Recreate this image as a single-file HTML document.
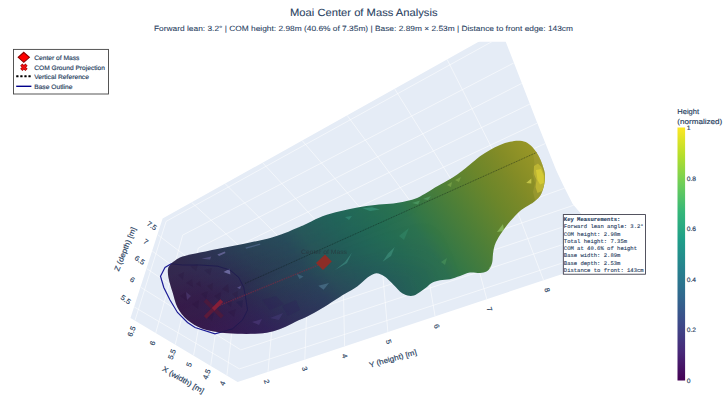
<!DOCTYPE html>
<html><head><meta charset="utf-8"><title>Moai Center of Mass Analysis</title>
<style>html,body{margin:0;padding:0;background:#fff;}body{width:728px;height:410px;overflow:hidden;font-family:"Liberation Sans",sans-serif;}svg{display:block;}</style>
</head><body>
<svg width="728" height="410" viewBox="0 0 728 410" text-rendering="geometricPrecision">
<defs>
<clipPath id="scene"><rect x="0" y="41.7" width="670" height="368.3"/></clipPath>
<clipPath id="hex"><polygon points="162.6,218.5 130.5,318 237.6,382 604,260.2 581.6,214.4 572.7,204.1 564.1,187.1 556.3,170.5 545.4,143.2 536.1,120 500.9,29.3"/></clipPath>
<linearGradient id="mg" gradientUnits="userSpaceOnUse" x1="207.1" y1="350.0" x2="520.7" y2="130.5">
<stop offset="0.000" stop-color="#331946"/>
<stop offset="0.075" stop-color="#311d49"/>
<stop offset="0.160" stop-color="#2d2950"/>
<stop offset="0.236" stop-color="#2a3953"/>
<stop offset="0.330" stop-color="#284658"/>
<stop offset="0.376" stop-color="#275358"/>
<stop offset="0.450" stop-color="#225e58"/>
<stop offset="0.500" stop-color="#226557"/>
<stop offset="0.560" stop-color="#246c53"/>
<stop offset="0.627" stop-color="#2c724f"/>
<stop offset="0.660" stop-color="#347746"/>
<stop offset="0.750" stop-color="#4e7f37"/>
<stop offset="0.800" stop-color="#5e8330"/>
<stop offset="0.844" stop-color="#6c862a"/>
<stop offset="0.893" stop-color="#7a8928"/>
<stop offset="0.924" stop-color="#848c26"/>
<stop offset="0.966" stop-color="#909226"/>
<stop offset="1.000" stop-color="#989626"/>
</linearGradient>
<linearGradient id="cb" x1="0" y1="1" x2="0" y2="0">
<stop offset="0" stop-color="#440154"/><stop offset="0.111" stop-color="#482878"/><stop offset="0.222" stop-color="#3e4989"/>
<stop offset="0.333" stop-color="#31688e"/><stop offset="0.444" stop-color="#26828e"/><stop offset="0.556" stop-color="#1f9e89"/>
<stop offset="0.667" stop-color="#35b779"/><stop offset="0.778" stop-color="#6ece58"/><stop offset="0.889" stop-color="#b5de2b"/>
<stop offset="1" stop-color="#fde725"/>
</linearGradient>
<linearGradient id="shade" gradientUnits="userSpaceOnUse" x1="284.8" y1="231.8" x2="315.2" y2="312.2">
<stop offset="0" stop-color="#28a080" stop-opacity="0.10"/>
<stop offset="0.4" stop-color="#28a080" stop-opacity="0"/>
<stop offset="0.6" stop-color="#3a1468" stop-opacity="0.06"/>
<stop offset="1" stop-color="#3a1468" stop-opacity="0.34"/>
</linearGradient>
<linearGradient id="lmg" gradientUnits="userSpaceOnUse" x1="250" y1="290" x2="440" y2="218">
<stop offset="0" stop-color="#fff"/><stop offset="1" stop-color="#000"/>
</linearGradient>
<mask id="lm" maskUnits="userSpaceOnUse" x="0" y="0" width="728" height="410"><rect x="0" y="0" width="728" height="410" fill="url(#lmg)"/></mask>
<clipPath id="meshclip"><path d="M168.0,269.0 C168.4,266.5 169.8,265.4 171.0,264.0 C172.2,262.6 173.6,261.5 175.5,260.3 C177.4,259.1 178.4,257.9 182.5,256.6 C186.6,255.3 192.9,254.1 200.0,252.6 C207.1,251.1 216.7,249.2 225.0,247.5 C233.3,245.8 242.9,243.9 250.0,242.5 C257.1,241.1 261.7,240.4 267.5,238.8 C273.3,237.2 280.1,234.8 285.0,233.0 C289.9,231.2 293.7,229.4 297.0,228.0 C300.3,226.6 300.8,226.5 305.0,224.5 C309.2,222.5 316.7,218.5 322.5,216.2 C328.3,214.0 334.2,212.7 340.0,211.2 C345.8,209.8 351.7,208.5 357.5,207.5 C363.3,206.5 369.6,205.6 375.0,205.0 C380.4,204.4 385.4,204.2 390.0,203.8 C394.6,203.2 398.3,202.8 402.5,202.0 C406.7,201.2 411.2,200.1 415.0,198.8 C418.8,197.4 421.7,195.6 425.0,193.8 C428.3,191.9 431.7,189.5 435.0,187.5 C438.3,185.5 441.7,183.9 445.0,182.0 C448.3,180.1 452.2,177.8 455.0,176.0 C457.8,174.2 459.5,172.9 462.0,171.0 C464.5,169.1 467.0,167.0 470.0,164.5 C473.0,162.0 476.7,158.7 480.0,156.2 C483.3,153.8 486.7,151.9 490.0,150.0 C493.3,148.1 496.7,146.4 500.0,145.0 C503.3,143.6 506.7,142.5 510.0,141.8 C513.3,141.0 517.1,140.5 520.0,140.8 C522.9,141.0 525.2,141.7 527.5,143.0 C529.8,144.3 531.9,146.5 533.8,148.8 C535.6,151.0 537.3,153.5 538.8,156.2 C540.2,159.0 541.5,161.9 542.5,165.0 C543.5,168.1 544.8,171.5 545.0,175.0 C545.2,178.5 544.6,182.8 543.8,186.2 C542.9,189.8 541.7,193.4 540.0,196.0 C538.3,198.6 535.8,200.3 533.8,202.0 C531.7,203.7 529.8,204.5 527.5,206.0 C525.2,207.5 522.5,208.9 520.0,211.0 C517.5,213.1 514.8,216.2 512.5,218.8 C510.2,221.3 508.3,223.5 506.2,226.2 C504.2,229.0 501.9,232.0 500.0,235.0 C498.1,238.0 496.2,241.3 495.0,244.5 C493.8,247.7 493.4,251.1 493.0,254.0 C492.6,256.9 492.8,259.7 492.3,262.0 C491.8,264.3 491.0,266.4 490.0,268.0 C489.0,269.6 488.2,270.7 486.5,271.5 C484.8,272.3 482.8,272.8 480.0,273.0 C477.2,273.2 473.3,272.0 470.0,272.5 C466.7,273.0 463.3,274.9 460.0,276.0 C456.7,277.1 453.3,278.5 450.0,279.2 C446.7,279.9 442.9,279.6 440.0,280.2 C437.1,280.8 434.8,281.3 432.5,282.5 C430.2,283.7 428.3,285.9 426.2,287.5 C424.2,289.1 422.1,290.7 420.0,292.0 C417.9,293.3 415.8,294.9 413.8,295.5 C411.7,296.1 409.6,296.0 407.5,295.5 C405.4,295.0 403.1,293.8 401.2,292.5 C399.4,291.2 398.1,289.4 396.2,287.5 C394.4,285.6 392.1,283.2 390.0,281.2 C387.9,279.3 386.0,277.3 383.8,276.0 C381.5,274.7 379.0,273.1 376.2,273.3 C373.5,273.6 370.6,275.3 367.5,277.5 C364.4,279.7 361.2,283.5 357.5,286.2 C353.8,289.0 348.8,291.5 345.0,293.8 C341.2,296.0 338.3,297.9 335.0,300.0 C331.7,302.1 329.2,304.0 325.0,306.5 C320.8,309.0 315.0,312.4 310.0,315.0 C305.0,317.6 299.6,319.8 295.0,322.0 C290.4,324.2 286.7,326.3 282.5,328.0 C278.3,329.7 274.6,331.0 270.0,332.0 C265.4,333.0 260.4,333.5 255.0,333.8 C249.6,334.0 243.3,334.0 237.5,333.8 C231.7,333.5 225.8,333.3 220.0,332.5 C214.2,331.7 207.9,330.8 202.5,328.8 C197.1,326.7 191.7,323.5 187.5,320.0 C183.3,316.5 180.0,312.2 177.5,307.5 C175.0,302.8 174.0,296.8 172.5,292.0 C171.0,287.2 169.5,282.8 168.8,279.0 C168.0,275.2 167.6,271.5 168.0,269.0 Z"/></clipPath>
</defs>
<rect width="728" height="410" fill="#ffffff"/>
<g clip-path="url(#scene)">
<polygon points="162.6,218.5 130.5,318 237.6,382 604,260.2 581.6,214.4 572.7,204.1 564.1,187.1 556.3,170.5 545.4,143.2 536.1,120 500.9,29.3" fill="#e5ecf6"/>
<g clip-path="url(#hex)"><path d="M226.9,375.6 L237.6,280.6 M237.6,280.6 L545.6,143.4 M210.7,365.9 L224.7,270.0 M224.7,270.0 L537.5,123.0 M193.5,355.6 L211.4,258.9 M211.4,258.9 L530.0,104.0 M175.2,344.7 L198.3,248.1 M198.3,248.1 L521.8,83.4 M155.7,333.1 L182.7,235.1 M182.7,235.1 L513.7,63.0 M134.9,320.6 L166.1,221.4 M166.1,221.4 L502.9,35.6 M191.5,202.3 L276.3,280.0 M276.3,280.0 L268.0,371.9 M225.0,183.6 L309.4,267.1 M308.4,267.5 L304.8,359.7 M262.5,162.6 L345.7,252.8 M342.7,254.0 L344.6,346.4 M302.0,140.4 L385.6,237.2 M379.6,239.6 L387.9,332.1 M347.0,115.2 L425.4,221.7 M419.4,224.0 L435.1,316.4 M394.5,88.6 L467.3,205.3 M462.3,207.2 L486.8,299.2 M447.0,59.2 L511.8,187.8 M508.8,189.0 L543.6,280.3 M134.1,306.9 L239.4,368.9 M239.4,368.9 L599.0,251.0 M140.5,287.1 L240.8,349.9 M240.8,349.9 L590.3,235.5 M146.5,268.5 L242.8,333.5 M242.8,333.5 L582.3,220.5 M152.1,251.0 L244.8,317.5 M244.8,317.5 L574.3,205.0 M157.4,234.5 L246.8,302.5 M246.8,302.5 L565.0,188.0" stroke="#ffffff" stroke-width="0.7" stroke-opacity="0.8" fill="none"/></g>
<path d="M171.2,263.8 L165.0,267.5 L160.5,276.2 L163.8,287.5 L170.0,300.0 L177.5,312.5 L187.5,322.5 L195.0,327.5 L215.0,333.8 L232.5,328.8 L242.5,320.0 L247.5,310.0 L246.0,300.0 L243.8,287.5 L238.8,277.5 L230.0,270.0 L217.5,266.2 L200.0,265.0 L182.5,265.0 Z" fill="none" stroke="#1c1c96" stroke-width="1.2"/>
<path d="M168.0,269.0 C168.4,266.5 169.8,265.4 171.0,264.0 C172.2,262.6 173.6,261.5 175.5,260.3 C177.4,259.1 178.4,257.9 182.5,256.6 C186.6,255.3 192.9,254.1 200.0,252.6 C207.1,251.1 216.7,249.2 225.0,247.5 C233.3,245.8 242.9,243.9 250.0,242.5 C257.1,241.1 261.7,240.4 267.5,238.8 C273.3,237.2 280.1,234.8 285.0,233.0 C289.9,231.2 293.7,229.4 297.0,228.0 C300.3,226.6 300.8,226.5 305.0,224.5 C309.2,222.5 316.7,218.5 322.5,216.2 C328.3,214.0 334.2,212.7 340.0,211.2 C345.8,209.8 351.7,208.5 357.5,207.5 C363.3,206.5 369.6,205.6 375.0,205.0 C380.4,204.4 385.4,204.2 390.0,203.8 C394.6,203.2 398.3,202.8 402.5,202.0 C406.7,201.2 411.2,200.1 415.0,198.8 C418.8,197.4 421.7,195.6 425.0,193.8 C428.3,191.9 431.7,189.5 435.0,187.5 C438.3,185.5 441.7,183.9 445.0,182.0 C448.3,180.1 452.2,177.8 455.0,176.0 C457.8,174.2 459.5,172.9 462.0,171.0 C464.5,169.1 467.0,167.0 470.0,164.5 C473.0,162.0 476.7,158.7 480.0,156.2 C483.3,153.8 486.7,151.9 490.0,150.0 C493.3,148.1 496.7,146.4 500.0,145.0 C503.3,143.6 506.7,142.5 510.0,141.8 C513.3,141.0 517.1,140.5 520.0,140.8 C522.9,141.0 525.2,141.7 527.5,143.0 C529.8,144.3 531.9,146.5 533.8,148.8 C535.6,151.0 537.3,153.5 538.8,156.2 C540.2,159.0 541.5,161.9 542.5,165.0 C543.5,168.1 544.8,171.5 545.0,175.0 C545.2,178.5 544.6,182.8 543.8,186.2 C542.9,189.8 541.7,193.4 540.0,196.0 C538.3,198.6 535.8,200.3 533.8,202.0 C531.7,203.7 529.8,204.5 527.5,206.0 C525.2,207.5 522.5,208.9 520.0,211.0 C517.5,213.1 514.8,216.2 512.5,218.8 C510.2,221.3 508.3,223.5 506.2,226.2 C504.2,229.0 501.9,232.0 500.0,235.0 C498.1,238.0 496.2,241.3 495.0,244.5 C493.8,247.7 493.4,251.1 493.0,254.0 C492.6,256.9 492.8,259.7 492.3,262.0 C491.8,264.3 491.0,266.4 490.0,268.0 C489.0,269.6 488.2,270.7 486.5,271.5 C484.8,272.3 482.8,272.8 480.0,273.0 C477.2,273.2 473.3,272.0 470.0,272.5 C466.7,273.0 463.3,274.9 460.0,276.0 C456.7,277.1 453.3,278.5 450.0,279.2 C446.7,279.9 442.9,279.6 440.0,280.2 C437.1,280.8 434.8,281.3 432.5,282.5 C430.2,283.7 428.3,285.9 426.2,287.5 C424.2,289.1 422.1,290.7 420.0,292.0 C417.9,293.3 415.8,294.9 413.8,295.5 C411.7,296.1 409.6,296.0 407.5,295.5 C405.4,295.0 403.1,293.8 401.2,292.5 C399.4,291.2 398.1,289.4 396.2,287.5 C394.4,285.6 392.1,283.2 390.0,281.2 C387.9,279.3 386.0,277.3 383.8,276.0 C381.5,274.7 379.0,273.1 376.2,273.3 C373.5,273.6 370.6,275.3 367.5,277.5 C364.4,279.7 361.2,283.5 357.5,286.2 C353.8,289.0 348.8,291.5 345.0,293.8 C341.2,296.0 338.3,297.9 335.0,300.0 C331.7,302.1 329.2,304.0 325.0,306.5 C320.8,309.0 315.0,312.4 310.0,315.0 C305.0,317.6 299.6,319.8 295.0,322.0 C290.4,324.2 286.7,326.3 282.5,328.0 C278.3,329.7 274.6,331.0 270.0,332.0 C265.4,333.0 260.4,333.5 255.0,333.8 C249.6,334.0 243.3,334.0 237.5,333.8 C231.7,333.5 225.8,333.3 220.0,332.5 C214.2,331.7 207.9,330.8 202.5,328.8 C197.1,326.7 191.7,323.5 187.5,320.0 C183.3,316.5 180.0,312.2 177.5,307.5 C175.0,302.8 174.0,296.8 172.5,292.0 C171.0,287.2 169.5,282.8 168.8,279.0 C168.0,275.2 167.6,271.5 168.0,269.0 Z" fill="url(#mg)"/>
<path d="M168.0,269.0 C168.4,266.5 169.8,265.4 171.0,264.0 C172.2,262.6 173.6,261.5 175.5,260.3 C177.4,259.1 178.4,257.9 182.5,256.6 C186.6,255.3 192.9,254.1 200.0,252.6 C207.1,251.1 216.7,249.2 225.0,247.5 C233.3,245.8 242.9,243.9 250.0,242.5 C257.1,241.1 261.7,240.4 267.5,238.8 C273.3,237.2 280.1,234.8 285.0,233.0 C289.9,231.2 293.7,229.4 297.0,228.0 C300.3,226.6 300.8,226.5 305.0,224.5 C309.2,222.5 316.7,218.5 322.5,216.2 C328.3,214.0 334.2,212.7 340.0,211.2 C345.8,209.8 351.7,208.5 357.5,207.5 C363.3,206.5 369.6,205.6 375.0,205.0 C380.4,204.4 385.4,204.2 390.0,203.8 C394.6,203.2 398.3,202.8 402.5,202.0 C406.7,201.2 411.2,200.1 415.0,198.8 C418.8,197.4 421.7,195.6 425.0,193.8 C428.3,191.9 431.7,189.5 435.0,187.5 C438.3,185.5 441.7,183.9 445.0,182.0 C448.3,180.1 452.2,177.8 455.0,176.0 C457.8,174.2 459.5,172.9 462.0,171.0 C464.5,169.1 467.0,167.0 470.0,164.5 C473.0,162.0 476.7,158.7 480.0,156.2 C483.3,153.8 486.7,151.9 490.0,150.0 C493.3,148.1 496.7,146.4 500.0,145.0 C503.3,143.6 506.7,142.5 510.0,141.8 C513.3,141.0 517.1,140.5 520.0,140.8 C522.9,141.0 525.2,141.7 527.5,143.0 C529.8,144.3 531.9,146.5 533.8,148.8 C535.6,151.0 537.3,153.5 538.8,156.2 C540.2,159.0 541.5,161.9 542.5,165.0 C543.5,168.1 544.8,171.5 545.0,175.0 C545.2,178.5 544.6,182.8 543.8,186.2 C542.9,189.8 541.7,193.4 540.0,196.0 C538.3,198.6 535.8,200.3 533.8,202.0 C531.7,203.7 529.8,204.5 527.5,206.0 C525.2,207.5 522.5,208.9 520.0,211.0 C517.5,213.1 514.8,216.2 512.5,218.8 C510.2,221.3 508.3,223.5 506.2,226.2 C504.2,229.0 501.9,232.0 500.0,235.0 C498.1,238.0 496.2,241.3 495.0,244.5 C493.8,247.7 493.4,251.1 493.0,254.0 C492.6,256.9 492.8,259.7 492.3,262.0 C491.8,264.3 491.0,266.4 490.0,268.0 C489.0,269.6 488.2,270.7 486.5,271.5 C484.8,272.3 482.8,272.8 480.0,273.0 C477.2,273.2 473.3,272.0 470.0,272.5 C466.7,273.0 463.3,274.9 460.0,276.0 C456.7,277.1 453.3,278.5 450.0,279.2 C446.7,279.9 442.9,279.6 440.0,280.2 C437.1,280.8 434.8,281.3 432.5,282.5 C430.2,283.7 428.3,285.9 426.2,287.5 C424.2,289.1 422.1,290.7 420.0,292.0 C417.9,293.3 415.8,294.9 413.8,295.5 C411.7,296.1 409.6,296.0 407.5,295.5 C405.4,295.0 403.1,293.8 401.2,292.5 C399.4,291.2 398.1,289.4 396.2,287.5 C394.4,285.6 392.1,283.2 390.0,281.2 C387.9,279.3 386.0,277.3 383.8,276.0 C381.5,274.7 379.0,273.1 376.2,273.3 C373.5,273.6 370.6,275.3 367.5,277.5 C364.4,279.7 361.2,283.5 357.5,286.2 C353.8,289.0 348.8,291.5 345.0,293.8 C341.2,296.0 338.3,297.9 335.0,300.0 C331.7,302.1 329.2,304.0 325.0,306.5 C320.8,309.0 315.0,312.4 310.0,315.0 C305.0,317.6 299.6,319.8 295.0,322.0 C290.4,324.2 286.7,326.3 282.5,328.0 C278.3,329.7 274.6,331.0 270.0,332.0 C265.4,333.0 260.4,333.5 255.0,333.8 C249.6,334.0 243.3,334.0 237.5,333.8 C231.7,333.5 225.8,333.3 220.0,332.5 C214.2,331.7 207.9,330.8 202.5,328.8 C197.1,326.7 191.7,323.5 187.5,320.0 C183.3,316.5 180.0,312.2 177.5,307.5 C175.0,302.8 174.0,296.8 172.5,292.0 C171.0,287.2 169.5,282.8 168.8,279.0 C168.0,275.2 167.6,271.5 168.0,269.0 Z" fill="url(#shade)" mask="url(#lm)"/>
<g clip-path="url(#meshclip)">
<path d="M533,152 L538,150 L543,158 L546,175 L545,190 L540,198 L535,200 L533,192 L535,183 L532.5,174 L534.5,164 Z" fill="#a8a23a" opacity="0.45"/>
<path d="M534,166 L538,163.5 L541.5,167 L544.5,175 L545,184 L542,191 L537.5,193 L535.5,187 L536.5,180 L534,174 Z" fill="#c4bc34" opacity="0.8"/>
<path d="M536,170 L541,169 L543.8,176 L543.8,183 L540,184.5 L537.5,180 Z" fill="#d8ce36" opacity="0.85"/>
<path d="M171.2,263.8 L165.0,267.5 L160.5,276.2 L163.8,287.5 L170.0,300.0 L177.5,312.5 L187.5,322.5 L195.0,327.5 L215.0,333.8 L232.5,328.8 L242.5,320.0 L247.5,310.0 L246.0,300.0 L243.8,287.5 L238.8,277.5 L230.0,270.0 L217.5,266.2 L200.0,265.0 L182.5,265.0 Z" fill="#6a2a78" fill-opacity="0.07" stroke="none"/>
<polygon points="178,275 184,272 183,280" fill="#24103a" fill-opacity="0.24"/>
<polygon points="186,283 192,279 193,287" fill="#24103a" fill-opacity="0.21"/>
<polygon points="180,296 186,292 187,301" fill="#24103a" fill-opacity="0.21"/>
<polygon points="192,304 199,300 198,309" fill="#24103a" fill-opacity="0.21"/>
<polygon points="201,294 208,291 206,299" fill="#24103a" fill-opacity="0.18"/>
<polygon points="214,296 221,292 220,301" fill="#24103a" fill-opacity="0.21"/>
<polygon points="225,302 232,299 231,307" fill="#24103a" fill-opacity="0.21"/>
<polygon points="228,312 236,309 234,317" fill="#24103a" fill-opacity="0.21"/>
<polygon points="236,302 243,300 242,308" fill="#1e1a48" fill-opacity="0.35"/>
<polygon points="206,316 214,313 212,321" fill="#24103a" fill-opacity="0.18"/>
<polygon points="190,266 198,264 196,271" fill="#24103a" fill-opacity="0.18"/>
<polygon points="204,270 212,268 210,275" fill="#24103a" fill-opacity="0.18"/>
<polygon points="262,300 276,296 284,304 270,310" fill="#2c1858" fill-opacity="0.18"/>
<polygon points="282,306 296,300 300,310 288,316" fill="#2c1858" fill-opacity="0.18"/>
<polygon points="217.4,254.5 224.8,251.6 225.5,253 219.1,256" fill="#8d86c8" fill-opacity="0.52"/>
<polygon points="201.6,258.7 211.3,256.5 210.1,259.4" fill="#7a70b4" fill-opacity="0.42"/>
<polygon points="223.5,272.1 229.6,268.7 230.4,274.5" fill="#9a96d6" fill-opacity="0.56"/>
<polygon points="237,287.7 241.1,285.7 240.1,289.1" fill="#7f78bd" fill-opacity="0.49"/>
<polygon points="245.5,247.6 260.1,243.6 260.3,244.8 246,248.8" fill="#6f86b8" fill-opacity="0.42"/>
<polygon points="196,284 200,281 201,287" fill="#2a1038" fill-opacity="0.24"/>
<polygon points="207,286 213,283 212,291" fill="#2a1038" fill-opacity="0.22"/>
<polygon points="222,289 228,284 229,293" fill="#2a1038" fill-opacity="0.22"/>
<polygon points="232,294 238,291 237,299" fill="#2a1038" fill-opacity="0.2"/>
<polygon points="186,292 191,296 187,300" fill="#6a5aa0" fill-opacity="0.32"/>
<polygon points="296.8,273.7 303.5,276.4 299.5,279.1" fill="#5a8aa8" fill-opacity="0.39"/>
<polygon points="318.3,285.8 329,283.1 323.6,289.8" fill="#6a9ab8" fill-opacity="0.39"/>
<polygon points="335,270 345,262 352,252.5 347,263" fill="#4fb0a0" fill-opacity="0.39"/>
<polygon points="382.6,261.7 388,253.6 394.7,246.9 391,256" fill="#58b8a0" fill-opacity="0.35"/>
<polygon points="362.5,208.3 372,207.3 380,209.5 370,211" fill="#48b89a" fill-opacity="0.39"/>
<polygon points="345,217 352,216 349,220" fill="#48b89a" fill-opacity="0.32"/>
<polygon points="412,203 420,200.5 418,204.5" fill="#6cc890" fill-opacity="0.35"/>
<polygon points="423,199 431,196 428,200" fill="#6cc890" fill-opacity="0.35"/>
<polygon points="447,185 452,182 451,187" fill="#a8d060" fill-opacity="0.35"/>
<polygon points="455,180 461,177 459,182" fill="#a8d060" fill-opacity="0.35"/>
<polygon points="526.2,183 531.3,178.6 531.3,183.4" fill="#d0d050" fill-opacity="0.8"/>
<polygon points="497,232 503,224 504,231" fill="#a8e07a" fill-opacity="0.49"/>
<polygon points="494,246 500,238 499,248" fill="#a8e07a" fill-opacity="0.49"/>
<polygon points="493.5,262 497,252 497.5,263" fill="#b4ec84" fill-opacity="0.56"/>
<polygon points="489,268 494,262 495,269" fill="#b4ec84" fill-opacity="0.42"/>
<polygon points="441,262 447,258 445,265" fill="#6cc070" fill-opacity="0.28"/>
<polygon points="399,236 409,228 404,240" fill="#3a9a78" fill-opacity="0.32"/>
<polygon points="383,285 388,280 389,287" fill="#3aa080" fill-opacity="0.28"/>
<polygon points="270,318 283,313 279,320" fill="#5a4a98" fill-opacity="0.28"/>
<polygon points="252,322 262,319 259,325" fill="#6a52a0" fill-opacity="0.32"/>
<path d="M171.2,263.8 L165.0,267.5 L160.5,276.2 L163.8,287.5 L170.0,300.0 L177.5,312.5 L187.5,322.5 L195.0,327.5 L215.0,333.8 L232.5,328.8 L242.5,320.0 L247.5,310.0 L246.0,300.0 L243.8,287.5 L238.8,277.5 L230.0,270.0 L217.5,266.2 L200.0,265.0 L182.5,265.0 Z" fill="none" stroke="#1c1850" stroke-width="0.8" opacity="0.9"/>
<path d="M245,283.5 L536.5,152.5" stroke="#0c1a16" stroke-width="0.9" stroke-dasharray="1.0,0.8" fill="none" opacity="0.55"/>
<path d="M217,306.5 L322,263.5" stroke="#8c2840" stroke-width="1.4" stroke-dasharray="1.6,0.8" fill="none" opacity="0.52"/>
<path d="M325,254.6 L331.8,261.4 L323,270 L316,263 Z" fill="#8c2d27"/>
<text x="324" y="253.5" text-anchor="middle" font-size="6.3" fill="#2a2a34" opacity="0.55" font-family="Liberation Sans, sans-serif" textLength="46" lengthAdjust="spacingAndGlyphs">Center of Mass</text>
<path d="M205,300.3 L222.3,317" stroke="#4a1a3e" stroke-width="4" fill="none"/>
<path d="M213.5,309 L205.2,317.3" stroke="#5c1a3a" stroke-width="3.8" fill="none"/>
<path d="M221.8,300.7 L213.2,309.3" stroke="#861f38" stroke-width="3.8" fill="none"/>
</g>
</g>
<text transform="translate(150.5,227.7) rotate(35)" text-anchor="middle" font-size="7.1" fill="#2a3f5f" stroke="#2a3f5f" stroke-width="0.16" font-family="Liberation Sans, sans-serif" textLength="10.5" lengthAdjust="spacingAndGlyphs">7.5</text>
<text transform="translate(144.4,243.8) rotate(35)" text-anchor="middle" font-size="7.1" fill="#2a3f5f" stroke="#2a3f5f" stroke-width="0.16" font-family="Liberation Sans, sans-serif" textLength="4.2" lengthAdjust="spacingAndGlyphs">7</text>
<text transform="translate(138.3,262.1) rotate(35)" text-anchor="middle" font-size="7.1" fill="#2a3f5f" stroke="#2a3f5f" stroke-width="0.16" font-family="Liberation Sans, sans-serif" textLength="10.5" lengthAdjust="spacingAndGlyphs">6.5</text>
<text transform="translate(131.0,281.6) rotate(35)" text-anchor="middle" font-size="7.1" fill="#2a3f5f" stroke="#2a3f5f" stroke-width="0.16" font-family="Liberation Sans, sans-serif" textLength="4.2" lengthAdjust="spacingAndGlyphs">6</text>
<text transform="translate(124.39999999999999,301.6) rotate(35)" text-anchor="middle" font-size="7.1" fill="#2a3f5f" stroke="#2a3f5f" stroke-width="0.16" font-family="Liberation Sans, sans-serif" textLength="10.5" lengthAdjust="spacingAndGlyphs">5.5</text>
<text transform="translate(133.8,332.3) rotate(-68)" text-anchor="middle" font-size="7.1" fill="#2a3f5f" stroke="#2a3f5f" stroke-width="0.16" font-family="Liberation Sans, sans-serif" textLength="10.5" lengthAdjust="spacingAndGlyphs">6.5</text>
<text transform="translate(154.7,344.0) rotate(-68)" text-anchor="middle" font-size="7.1" fill="#2a3f5f" stroke="#2a3f5f" stroke-width="0.16" font-family="Liberation Sans, sans-serif" textLength="4.2" lengthAdjust="spacingAndGlyphs">6</text>
<text transform="translate(174.2,355.1) rotate(-68)" text-anchor="middle" font-size="7.1" fill="#2a3f5f" stroke="#2a3f5f" stroke-width="0.16" font-family="Liberation Sans, sans-serif" textLength="10.5" lengthAdjust="spacingAndGlyphs">5.5</text>
<text transform="translate(191.2,365.5) rotate(-68)" text-anchor="middle" font-size="7.1" fill="#2a3f5f" stroke="#2a3f5f" stroke-width="0.16" font-family="Liberation Sans, sans-serif" textLength="4.2" lengthAdjust="spacingAndGlyphs">5</text>
<text transform="translate(208.9,375.2) rotate(-68)" text-anchor="middle" font-size="7.1" fill="#2a3f5f" stroke="#2a3f5f" stroke-width="0.16" font-family="Liberation Sans, sans-serif" textLength="10.5" lengthAdjust="spacingAndGlyphs">4.5</text>
<text transform="translate(224.9,384.4) rotate(-68)" text-anchor="middle" font-size="7.1" fill="#2a3f5f" stroke="#2a3f5f" stroke-width="0.16" font-family="Liberation Sans, sans-serif" textLength="4.2" lengthAdjust="spacingAndGlyphs">4</text>
<text transform="translate(264.5,382.2) rotate(72)" text-anchor="middle" font-size="7.1" fill="#2a3f5f" stroke="#2a3f5f" stroke-width="0.16" font-family="Liberation Sans, sans-serif" textLength="4.2" lengthAdjust="spacingAndGlyphs">2</text>
<text transform="translate(302.3,369.6) rotate(72)" text-anchor="middle" font-size="7.1" fill="#2a3f5f" stroke="#2a3f5f" stroke-width="0.16" font-family="Liberation Sans, sans-serif" textLength="4.2" lengthAdjust="spacingAndGlyphs">3</text>
<text transform="translate(342.4,356.7) rotate(72)" text-anchor="middle" font-size="7.1" fill="#2a3f5f" stroke="#2a3f5f" stroke-width="0.16" font-family="Liberation Sans, sans-serif" textLength="4.2" lengthAdjust="spacingAndGlyphs">4</text>
<text transform="translate(386.3,342.5) rotate(72)" text-anchor="middle" font-size="7.1" fill="#2a3f5f" stroke="#2a3f5f" stroke-width="0.16" font-family="Liberation Sans, sans-serif" textLength="4.2" lengthAdjust="spacingAndGlyphs">5</text>
<text transform="translate(434.5,326.9) rotate(72)" text-anchor="middle" font-size="7.1" fill="#2a3f5f" stroke="#2a3f5f" stroke-width="0.16" font-family="Liberation Sans, sans-serif" textLength="4.2" lengthAdjust="spacingAndGlyphs">6</text>
<text transform="translate(487.1,310.0) rotate(72)" text-anchor="middle" font-size="7.1" fill="#2a3f5f" stroke="#2a3f5f" stroke-width="0.16" font-family="Liberation Sans, sans-serif" textLength="4.2" lengthAdjust="spacingAndGlyphs">7</text>
<text transform="translate(544.8,290.8) rotate(72)" text-anchor="middle" font-size="7.1" fill="#2a3f5f" stroke="#2a3f5f" stroke-width="0.16" font-family="Liberation Sans, sans-serif" textLength="4.2" lengthAdjust="spacingAndGlyphs">8</text>
<text transform="translate(127.39999999999999,250) rotate(-68)" text-anchor="middle" font-size="7.4" fill="#2a3f5f" stroke="#2a3f5f" stroke-width="0.16" font-family="Liberation Sans, sans-serif" textLength="46.8" lengthAdjust="spacingAndGlyphs">Z (depth) [m]</text>
<text transform="translate(181.9,382.0) rotate(30)" text-anchor="middle" font-size="7.4" fill="#2a3f5f" stroke="#2a3f5f" stroke-width="0.16" font-family="Liberation Sans, sans-serif" textLength="46.8" lengthAdjust="spacingAndGlyphs">X (width) [m]</text>
<text transform="translate(393.5,361) rotate(-15.7)" text-anchor="middle" font-size="7.4" fill="#2a3f5f" stroke="#2a3f5f" stroke-width="0.16" font-family="Liberation Sans, sans-serif" textLength="49" lengthAdjust="spacingAndGlyphs">Y (height) [m]</text>
<text x="363.8" y="16.2" text-anchor="middle" font-size="10.4" fill="#2a3f5f" stroke="#2a3f5f" stroke-width="0.08" font-family="Liberation Sans, sans-serif" textLength="147.5" lengthAdjust="spacingAndGlyphs">Moai Center of Mass Analysis</text>
<text x="363.5" y="31.0" text-anchor="middle" font-size="7.5" fill="#2a3f5f" stroke="#2a3f5f" stroke-width="0.08" font-family="Liberation Sans, sans-serif" textLength="419" lengthAdjust="spacingAndGlyphs">Forward lean: 3.2° | COM height: 2.98m (40.6% of 7.35m) | Base: 2.89m × 2.53m | Distance to front edge: 143cm</text>
<rect x="13.5" y="49.4" width="95" height="44.6" fill="#ffffff" stroke="#444" stroke-width="0.9"/>
<path d="M23.8,52.3 L29.4,57.3 L23.8,62.3 L18.2,57.3 Z" fill="#ff0000" stroke="#8b0000" stroke-width="1.1" stroke-linejoin="miter"/>
<path d="M21.3,64.7 L26.5,69.9 M26.5,64.7 L21.3,69.9" stroke="#a00000" stroke-width="3.1" fill="none"/>
<path d="M21.6,65 L26.2,69.6 M26.2,65 L21.6,69.6" stroke="#f01010" stroke-width="1.9" fill="none"/>
<rect x="16.20" y="75.2" width="2.3" height="2.1" rx="0.4" fill="#000"/>
<rect x="20.27" y="75.2" width="2.3" height="2.1" rx="0.4" fill="#000"/>
<rect x="24.34" y="75.2" width="2.3" height="2.1" rx="0.4" fill="#000"/>
<rect x="28.41" y="75.2" width="2.3" height="2.1" rx="0.4" fill="#000"/>
<path d="M16.2,86.3 L31.4,86.3" stroke="#00008b" stroke-width="1.4" fill="none"/>
<text x="34.2" y="59.7" font-size="6.3" fill="#2a3f5f" stroke="#2a3f5f" stroke-width="0.16" font-family="Liberation Sans, sans-serif" textLength="45.25" lengthAdjust="spacingAndGlyphs">Center of Mass</text>
<text x="34.2" y="69.5" font-size="6.3" fill="#2a3f5f" stroke="#2a3f5f" stroke-width="0.16" font-family="Liberation Sans, sans-serif" textLength="70.75" lengthAdjust="spacingAndGlyphs">COM Ground Projection</text>
<text x="34.2" y="78.9" font-size="6.3" fill="#2a3f5f" stroke="#2a3f5f" stroke-width="0.16" font-family="Liberation Sans, sans-serif" textLength="54.75" lengthAdjust="spacingAndGlyphs">Vertical Reference</text>
<text x="34.2" y="88.5" font-size="6.3" fill="#2a3f5f" stroke="#2a3f5f" stroke-width="0.16" font-family="Liberation Sans, sans-serif" textLength="38.25" lengthAdjust="spacingAndGlyphs">Base Outline</text>
<rect x="563.3" y="214.6" width="82.2" height="59.6" fill="#ffffff" fill-opacity="0.96" stroke="#2a2a3a" stroke-width="0.8"/>
<text x="563.8" y="221.00" font-size="5.55" fill="#2a3f5f" stroke="#2a3f5f" stroke-width="0.12" font-family="Liberation Mono, monospace" font-weight="bold" xml:space="preserve">Key Measurements:</text>
<text x="563.8" y="228.25" font-size="5.55" fill="#2a3f5f" stroke="#2a3f5f" stroke-width="0.12" font-family="Liberation Mono, monospace" xml:space="preserve">Forward lean angle: 3.2°</text>
<text x="563.8" y="235.50" font-size="5.55" fill="#2a3f5f" stroke="#2a3f5f" stroke-width="0.12" font-family="Liberation Mono, monospace" xml:space="preserve">COM height: 2.98m</text>
<text x="563.8" y="242.75" font-size="5.55" fill="#2a3f5f" stroke="#2a3f5f" stroke-width="0.12" font-family="Liberation Mono, monospace" xml:space="preserve">Total height: 7.35m</text>
<text x="563.8" y="250.00" font-size="5.55" fill="#2a3f5f" stroke="#2a3f5f" stroke-width="0.12" font-family="Liberation Mono, monospace" xml:space="preserve">COM at 40.6% of height</text>
<text x="563.8" y="257.25" font-size="5.55" fill="#2a3f5f" stroke="#2a3f5f" stroke-width="0.12" font-family="Liberation Mono, monospace" xml:space="preserve">Base width: 2.89m</text>
<text x="563.8" y="264.50" font-size="5.55" fill="#2a3f5f" stroke="#2a3f5f" stroke-width="0.12" font-family="Liberation Mono, monospace" xml:space="preserve">Base depth: 2.53m</text>
<text x="563.8" y="271.75" font-size="5.55" fill="#2a3f5f" stroke="#2a3f5f" stroke-width="0.12" font-family="Liberation Mono, monospace" xml:space="preserve">Distance to front: 143cm</text>
<rect x="677.5" y="127.5" width="7.6" height="253" fill="url(#cb)"/>
<text x="686.8" y="383.0" font-size="6.3" fill="#2a3f5f" stroke="#2a3f5f" stroke-width="0.16" font-family="Liberation Sans, sans-serif" textLength="3.8" lengthAdjust="spacingAndGlyphs">0</text>
<text x="686.8" y="332.4" font-size="6.3" fill="#2a3f5f" stroke="#2a3f5f" stroke-width="0.16" font-family="Liberation Sans, sans-serif" textLength="9.3" lengthAdjust="spacingAndGlyphs">0.2</text>
<text x="686.8" y="281.8" font-size="6.3" fill="#2a3f5f" stroke="#2a3f5f" stroke-width="0.16" font-family="Liberation Sans, sans-serif" textLength="9.3" lengthAdjust="spacingAndGlyphs">0.4</text>
<text x="686.8" y="231.2" font-size="6.3" fill="#2a3f5f" stroke="#2a3f5f" stroke-width="0.16" font-family="Liberation Sans, sans-serif" textLength="9.3" lengthAdjust="spacingAndGlyphs">0.6</text>
<text x="686.8" y="180.6" font-size="6.3" fill="#2a3f5f" stroke="#2a3f5f" stroke-width="0.16" font-family="Liberation Sans, sans-serif" textLength="9.3" lengthAdjust="spacingAndGlyphs">0.8</text>
<text x="686.8" y="130.0" font-size="6.3" fill="#2a3f5f" stroke="#2a3f5f" stroke-width="0.16" font-family="Liberation Sans, sans-serif" textLength="3.8" lengthAdjust="spacingAndGlyphs">1</text>
<text x="677.3" y="114.4" font-size="7.3" fill="#2a3f5f" stroke="#2a3f5f" stroke-width="0.16" font-family="Liberation Sans, sans-serif" textLength="21.8" lengthAdjust="spacingAndGlyphs">Height</text>
<text x="677.3" y="123.8" font-size="7.3" fill="#2a3f5f" stroke="#2a3f5f" stroke-width="0.16" font-family="Liberation Sans, sans-serif" textLength="45" lengthAdjust="spacingAndGlyphs">(normalized)</text>
</svg>
</body></html>
